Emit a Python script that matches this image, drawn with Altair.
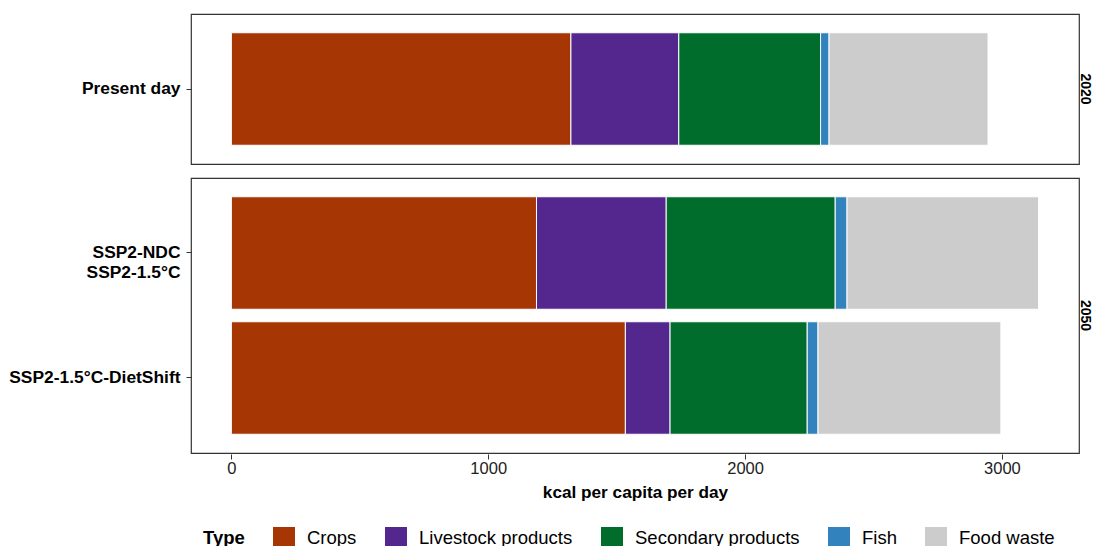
import altair as alt
import pandas as pd

scenarios = ["Present day", "SSP2-NDC|SSP2-1.5°C", "SSP2-1.5°C-DietShift"]
years = ["2020", "2050", "2050"]
types = ["Crops", "Livestock products", "Secondary products", "Fish", "Food waste"]
colors = ["#A63603", "#54278F", "#006D2C", "#3182BD", "#CCCCCC"]

crops = [1322, 1188, 1534]
livestock = [420, 505, 174]
secondary = [552, 658, 534]
fish = [33, 46, 42]
food_waste = [619, 746, 712]

series = [crops, livestock, secondary, fish, food_waste]
rows = []
for ti, (t, vals) in enumerate(zip(types, series)):
    for s, y, v in zip(scenarios, years, vals):
        rows.append({"scenario": s, "year": y, "type": t, "value": v, "order": ti})
df = pd.DataFrame(rows)

FONT = "Liberation Sans"

base = alt.Chart(df).mark_bar(stroke="white", strokeWidth=1).encode(
    x=alt.X(
        "value:Q",
        stack="zero",
        scale=alt.Scale(domain=[-157.15, 3300.15], nice=False, zero=False),
        axis=alt.Axis(
            values=[0, 1000, 2000, 3000],
            format="d",
            title="kcal per capita per day",
            grid=False,
            domain=False,
            tickSize=5,
            tickColor="#333333",
            labelPadding=1,
            labelFontSize=16.5,
            labelColor="#222222",
            titleFontSize=17.2,
            titleFontWeight="bold",
            titleColor="black",
            titlePadding=7,
        ),
    ),
    y=alt.Y(
        "scenario:N",
        sort=scenarios,
        title=None,
        scale=alt.Scale(paddingInner=0.1, paddingOuter=0.15),
        axis=alt.Axis(
            labelExpr="split(datum.label, '|')",
            grid=False,
            domain=False,
            tickSize=5,
            tickColor="#333333",
            labelPadding=6,
            labelFontSize=17.4,
            labelFontWeight="bold",
            labelColor="black",
            labelLineHeight=20,
        ),
    ),
    color=alt.Color(
        "type:N",
        sort=types,
        scale=alt.Scale(domain=types, range=colors),
        legend=alt.Legend(
            title="Type",
            orient="none",
            direction="horizontal",
            legendX=12,
            legendY=513,
            titleOrient="left",
            titleFontSize=18.5,
            titleFontWeight="bold",
            titleColor="black",
            titlePadding=28,
            labelFontSize=18.5,
            labelColor="black",
            labelLimit=0,
            symbolType="square",
            symbolSize=484,
            symbolStrokeWidth=0,
            symbolOpacity=1,
            labelOffset=12,
            columnPadding=28,
        ),
    ),
    order=alt.Order("order:Q"),
).properties(width=888, height=alt.Step(125))

chart = base.facet(
    row=alt.Row(
        "year:N",
        title=None,
        header=alt.Header(
            labelOrient="right",
            labelAngle=90,
            labelAlign="center",
            labelBaseline="bottom",
            labelFontSize=14,
            labelFontWeight="bold",
            labelColor="black",
            labelPadding=-16,
        ),
    ),
    spacing=12,
).resolve_scale(y="independent").properties(
    padding={"left": 0, "top": 5, "right": 4, "bottom": 5}
).configure(font=FONT).configure_view(stroke="#333333", strokeWidth=1.2)

chart.save("out.html", embed_options={"renderer": "svg", "actions": False})
